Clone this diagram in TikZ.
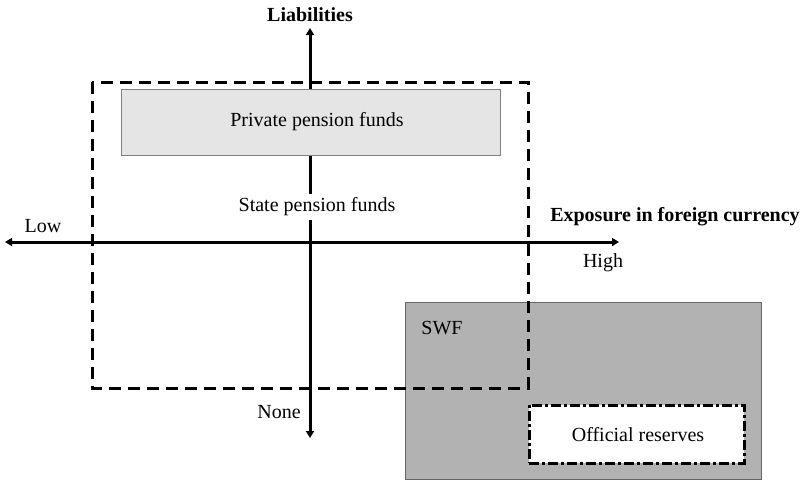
\documentclass[tikz,border=0pt]{standalone}
\usepackage{fontspec}
\setmainfont{Liberation Serif}
\usetikzlibrary{arrows.meta}
\begin{document}
\begin{tikzpicture}[x=1pt,y=-1pt,
    txt/.style={font=\fontsize{20}{24}\selectfont,inner sep=0pt},
    axis/.style={line width=3pt,-{Triangle[length=7pt,width=8pt]}},
    boxed/.style={draw,inner sep=0pt,anchor=north west}]
  \useasboundingbox (0,0) rectangle (810,480);
  % SWF region
  \node[boxed,draw=black!60,fill=black!30,line width=1pt,
        minimum width=356pt,minimum height=177pt] (swf) at (405,302) {};
  \node[txt] (swflbl) at (442,328) {SWF};
  % axes
  \coordinate (top) at (310,28);
  \coordinate (bottom) at (310,438);
  \coordinate (left) at (5,242);
  \coordinate (right) at (619,242);
  \coordinate (o) at (310,242);
  \draw[axis] (o) -- (top);
  \draw[axis] (o) -- (bottom);
  \draw[axis] (o) -- (left);
  \draw[axis] (o) -- (right);
  % pension funds
  \draw[line width=3pt,dash pattern=on 12pt off 7pt] (92,82) rectangle (528,388);
  \node[boxed,draw=black!50,fill=black!10,line width=1pt,
        minimum width=379pt,minimum height=66pt] (ppf) at (121,89) {};
  \node[txt] (ppflbl) at (317,122) {Private pension funds};
  \node[txt,fill=white,inner sep=4pt] (spf) at (317,207) {State pension funds};
  % official reserves
  \node[boxed,fill=white,line width=2.7pt,
        dash pattern=on 10pt off 3pt on 3pt off 3pt,
        minimum width=215pt,minimum height=58pt] (res) at (528,404) {};
  \node[txt] (reslbl) at (638,435) {Official reserves};
  % axis labels
  \node[txt,font=\fontsize{20}{24}\selectfont\bfseries] (liab) at (310,15) {Liabilities};
  \node[txt] (none) at (279,412) {None};
  \node[txt] (low) at (43,226) {Low};
  \node[txt] (high) at (603,263) {High};
  \node[txt,font=\fontsize{20}{24}\selectfont\bfseries] (expo) at (675,217) {Exposure in foreign currency};
\end{tikzpicture}
\end{document}
